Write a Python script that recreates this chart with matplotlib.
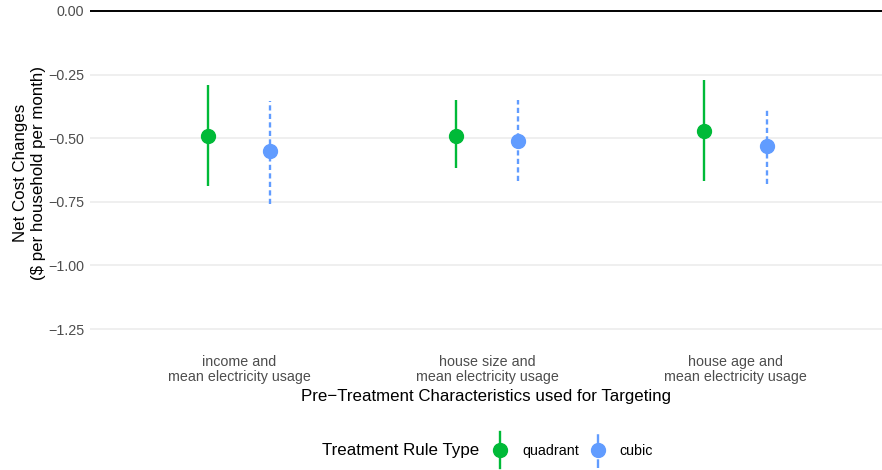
import numpy as np
import matplotlib
matplotlib.use("Agg")
import matplotlib.pyplot as plt
from matplotlib.lines import Line2D
from matplotlib.legend_handler import HandlerBase

plt.rcParams['font.family'] = ['Liberation Sans', 'DejaVu Sans']
plt.rcParams['axes.unicode_minus'] = True

# data
groups = ["income and\nmean electricity usage",
          "house size and\nmean electricity usage",
          "house age and\nmean electricity usage"]
quad_est = [-0.490, -0.490, -0.470]
quad_lo = [-0.689, -0.618, -0.668]
quad_hi = [-0.292, -0.350, -0.272]
cubic_est = [-0.550, -0.510, -0.530]
cubic_lo = [-0.758, -0.667, -0.680]
cubic_hi = [-0.354, -0.350, -0.390]
yticks = [0.0, -0.25, -0.5, -0.75, -1.0, -1.25]

green = "#00BA38"
blue = "#619CFF"
grey_txt = "#4D4D4D"
dash = (0, (2.2, 1.4))


class PointRangeHandler(HandlerBase):
    # legend key like ggplot's pointrange: vertical line through a dot
    def create_artists(self, legend, orig_handle, xdescent, ydescent,
                       width, height, fontsize, trans):
        cx = width / 2 - xdescent
        cy = height / 2 - ydescent
        half = height * 1.8
        line = Line2D([cx, cx], [cy - half, cy + half], color=orig_handle.get_color(),
                      lw=orig_handle.get_linewidth(), linestyle=orig_handle.get_linestyle(),
                      transform=trans)
        dot = Line2D([cx], [cy], marker='o', ms=orig_handle.get_markersize(),
                     color=orig_handle.get_color(), linestyle='none', transform=trans)
        return [line, dot]


fig = plt.figure(figsize=(8.82, 4.70), dpi=100)
ax = fig.add_axes([90 / 882, 1 - 345 / 470, 1 - 90 / 882, 345 / 470])

x = np.arange(1, len(groups) + 1)
dodge = 0.125

q = np.array(quad_est)
ax.errorbar(x - dodge, q, yerr=[q - np.array(quad_lo), np.array(quad_hi) - q],
            fmt='o', color=green, ms=10, elinewidth=1.7, capsize=0, zorder=3)
c = np.array(cubic_est)
eb_c = ax.errorbar(x + dodge, c, yerr=[c - np.array(cubic_lo), np.array(cubic_hi) - c],
                   fmt='o', color=blue, ms=10, elinewidth=1.7, capsize=0, zorder=3)
eb_c[2][0].set_linestyle(dash)

ax.axhline(0, color="black", lw=1.4, zorder=2)

ax.set_xlim(0.40, 3.59)
ax.set_ylim(-1.3125, 0.043)
ax.set_yticks(yticks)
ax.set_yticklabels([f"{v:.2f}".replace("-", "\u2212") for v in yticks])
ax.set_xticks(x)
ax.set_xticklabels(groups, linespacing=1.1)
ax.tick_params(axis='both', length=0, labelsize=10.3, labelcolor=grey_txt)
ax.tick_params(axis='x', pad=7)
ax.tick_params(axis='y', pad=4)
ax.grid(axis='y', color="#EBEBEB", lw=1.1)
ax.set_axisbelow(True)
for s in ax.spines.values():
    s.set_visible(False)

ax.set_xlabel("Pre\u2212Treatment Characteristics used for Targeting", fontsize=12.2, labelpad=4)
ax.set_ylabel("Net Cost Changes\n($ per household per month)", fontsize=12.2, labelpad=2)

# legend at bottom
h_q = Line2D([], [], color=green, lw=1.7, ms=10, label="quadrant")
h_c = Line2D([], [], color=blue, lw=1.7, ms=10, linestyle=dash, label="cubic")
fig.text(322 / 882, 1 - 451 / 470, "Treatment Rule Type", fontsize=12.2, va='center', ha='left')
fig.legend(handles=[h_q, h_c], handler_map={Line2D: PointRangeHandler()},
           loc='center left', bbox_to_anchor=(491.5 / 882, 1 - 451 / 470),
           ncol=2, frameon=False, fontsize=10.3, handlelength=1.2, handletextpad=0.94,
           columnspacing=0.72, borderaxespad=0, borderpad=0)

fig.savefig("out.png", dpi=100)
